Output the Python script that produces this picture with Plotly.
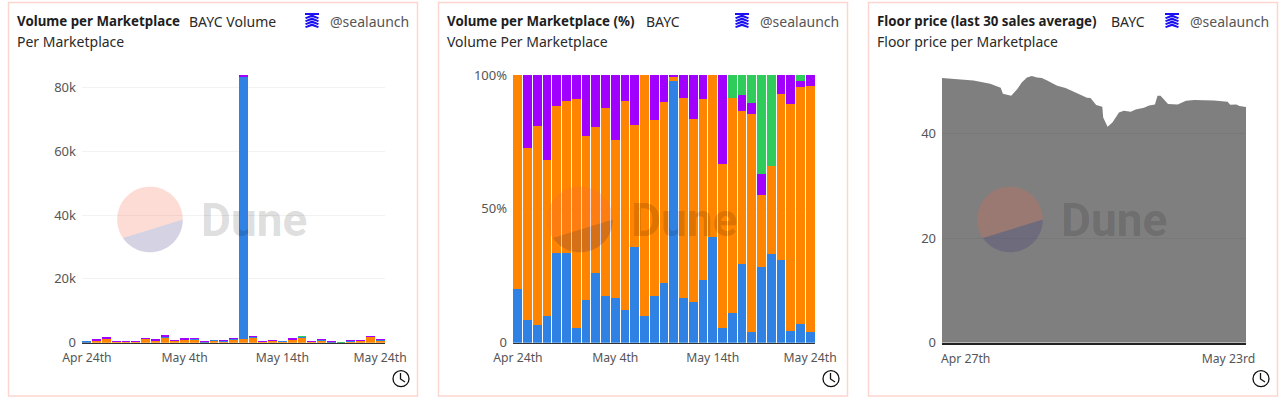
import math
import pandas as pd
import plotly.graph_objects as go

days = pd.date_range('2022-04-24', '2022-05-24').strftime('%Y-%m-%d').tolist()

# volume per marketplace, in ETH
vol_orange = [200, 600, 1200, 250, 250, 350, 1250, 600, 1350, 550, 850, 1150, 180, 700, 450, 1000,
              1300, 1600, 350, 550, 300, 900, 1700, 280, 800, 150, 35, 500, 680, 1850, 830]
vol_blue = [50, 100, 100, 50, 30, 100, 80, 150, 650, 150, 250, 150, 150, 80, 120, 300,
            82200, 350, 80, 150, 200, 100, 200, 150, 50, 150, 30, 250, 30, 150, 40]
vol_green = [0, 0, 0, 0, 0, 0, 0, 0, 0, 0, 0, 0, 0, 0, 0, 0,
             0, 0, 0, 0, 0, 0, 200, 30, 120, 180, 35, 0, 0, 50, 0]
vol_purple = [0, 450, 400, 100, 70, 50, 120, 250, 500, 100, 350, 150, 70, 0, 130, 150,
              500, 150, 70, 100, 0, 500, 0, 30, 30, 40, 0, 50, 90, 50, 30]

# share per marketplace, in percent
pct_blue = [20, 8.5, 6.7, 10, 33.6, 33.4, 5.6, 15.8, 26.1, 17.5, 16.6, 12.2, 35.7, 10.1, 17.5, 22.2,
            97.8, 16.8, 15.2, 23.3, 39.5, 5.4, 11.2, 29.4, 3.9, 28.2, 33.3, 30.9, 4.3, 7, 3.9]
pct_orange = [80, 64.2, 74.2, 58.3, 54.9, 57, 85.5, 61.5, 54.6, 70.2, 59.1, 78.2, 45.8, 89.9, 65.6, 67.9,
              1.6, 74.6, 68.3, 67.9, 60.5, 61.4, 80.2, 57, 81.7, 27.1, 32.8, 62.1, 84.9, 88.5, 92.1]
pct_purple = [0, 27.3, 19.1, 31.7, 11.5, 9.6, 8.9, 22.7, 19.3, 12.3, 24.3, 9.6, 18.5, 0, 16.9, 9.9,
              0.6, 8.6, 16.5, 8.8, 0, 33.2, 0, 6.2, 4, 7.8, 0, 7, 10.8, 2.4, 4]
pct_green = [0, 0, 0, 0, 0, 0, 0, 0, 0, 0, 0, 0, 0, 0, 0, 0,
             0, 0, 0, 0, 0, 0, 8.6, 7.4, 10.4, 36.9, 33.9, 0, 0, 2.1, 0]

floor_dates = ['2022-04-25 00:00', '2022-04-26 10:00', '2022-04-28 00:00', '2022-04-29 14:00', '2022-04-30 14:00',
               '2022-04-30 19:00', '2022-05-01 14:00', '2022-05-02 04:00', '2022-05-02 14:00', '2022-05-03 02:00',
               '2022-05-03 13:00', '2022-05-04 01:00', '2022-05-04 12:00', '2022-05-05 00:00', '2022-05-05 23:00',
               '2022-05-06 18:00', '2022-05-07 20:00', '2022-05-08 19:00', '2022-05-09 03:00', '2022-05-09 16:00',
               '2022-05-10 06:00', '2022-05-10 08:00', '2022-05-10 18:00', '2022-05-11 05:00', '2022-05-11 20:00',
               '2022-05-12 07:00', '2022-05-12 23:00', '2022-05-13 10:00', '2022-05-14 05:00', '2022-05-14 17:00',
               '2022-05-15 06:00', '2022-05-15 12:00', '2022-05-15 19:00', '2022-05-16 12:00', '2022-05-17 10:00',
               '2022-05-18 05:00', '2022-05-19 00:00', '2022-05-20 21:00', '2022-05-22 04:00', '2022-05-22 10:00',
               '2022-05-23 00:00', '2022-05-23 07:00', '2022-05-23 22:00']
floor_price = [50.65, 50.4, 50.2, 49.57, 48.8, 47.66, 47.27, 48.55, 49.83, 50.78, 51.04, 50.78, 50.65, 50.2, 49.19,
               48.74, 47.78, 46.89, 46.83, 45.49, 45.17, 43.13, 41.34, 42.17, 44.08, 44.4, 44.21, 44.66, 44.98, 45.42,
               45.61, 47.27, 47.27, 45.68, 45.61, 46.32, 46.44, 46.38, 46.12, 45.55, 45.61, 45.3, 45.1]

bar_ticks = ['2022-04-24', '2022-05-04', '2022-05-14', '2022-05-24']
bar_labels = ['Apr 24th', 'May 4th', 'May 14th', 'May 24th']
floor_ticks = ['2022-04-27 06:00', '2022-05-22 06:00']
floor_labels = ['Apr 27th', 'May 23rd']

titles = ['Volume per Marketplace', 'Volume per Marketplace (%)', 'Floor price (last 30 sales average)']
notes = ['BAYC Volume', 'BAYC', 'BAYC']
note_x = [187, 644, 1109]
subtitles = ['Per Marketplace', 'Volume Per Marketplace', 'Floor price per Marketplace']
offsets = [0, 430, 860]

BLUE = '#2f82e4'
ORANGE = '#ff8400'
PURPLE = '#a100ff'
GREEN = '#2fcc5c'
FONT = 'Noto Sans'
W, H = 1280, 402


def px(x):
    return x / W


def py(y):
    return 1 - y / H


def poly(points):
    return 'M' + ' L'.join(f'{px(x):.5f},{py(y):.5f}' for x, y in points) + ' Z'


def arc(cx, cy, r, a0, a1):
    n = 60
    pts = []
    for i in range(n + 1):
        a = math.radians(a0 + (a1 - a0) * i / n)
        pts.append((cx + r * math.cos(a), cy - r * math.sin(a)))
    return pts


fig = go.Figure()

for vals, col in [(vol_orange, ORANGE), (vol_blue, BLUE), (vol_green, GREEN), (vol_purple, PURPLE)]:
    fig.add_trace(go.Bar(x=days, y=vals, marker_color=col, marker_line_width=0, xaxis='x', yaxis='y'))
for vals, col in [(pct_blue, BLUE), (pct_orange, ORANGE), (pct_purple, PURPLE), (pct_green, GREEN)]:
    fig.add_trace(go.Bar(x=days, y=vals, marker_color=col, marker_line_width=0, xaxis='x2', yaxis='y2'))
fig.add_trace(go.Scatter(x=floor_dates, y=floor_price, mode='lines', line_width=0, fill='tozeroy',
                         fillcolor='rgba(0,0,0,0.5)', xaxis='x3', yaxis='y3'))

shapes = []
annotations = []


def label(x, y, text, size, color, family=FONT):
    annotations.append(dict(xref='paper', yref='paper', xanchor='left', yanchor='middle', showarrow=False,
                            x=px(x), y=py(y), text=text, font=dict(size=size, color=color, family=family)))


for i, off in enumerate(offsets):
    # card border
    shapes.append(dict(type='rect', xref='paper', yref='paper', x0=px(8.5 + off), x1=px(417.5 + off),
                       y0=py(396), y1=py(2.5), line=dict(color='#fdd5d0', width=1.5), layer='below'))
    label(15 + off, 21, f'<b>{titles[i]}</b>', 13.3, '#1e1e1e')
    label(note_x[i], 21, notes[i], 14, '#2a2a2a')
    label(15 + off, 42, subtitles[i], 14, '#2a2a2a')
    label(328 + off, 21, '@sealaunch', 14, '#555555')
    label(199 + off, 220, '<b>Dune</b>', 46, 'rgba(0,0,0,0.15)', 'Roboto')

    # logo
    lx = 312 + off
    shapes.append(dict(type='path', xref='paper', yref='paper', line_width=0, fillcolor='#1c10f0',
                       path=poly([(lx - 7, 13), (lx + 7, 13), (lx + 7, 15), (lx - 7, 15)])))
    for top in (14.5, 17.5, 20.5, 23.5):
        shapes.append(dict(type='path', xref='paper', yref='paper', line_width=0, fillcolor='#1c10f0',
                           path=poly([(lx, top), (lx + 7, top + 3), (lx + 6, top + 4.6), (lx, top + 2.5),
                                      (lx - 6, top + 4.6), (lx - 7, top + 3)])))

    # clock
    cx = 401 + off
    shapes.append(dict(type='circle', xref='paper', yref='paper', x0=px(cx - 8), x1=px(cx + 8),
                       y0=py(378.7 + 8), y1=py(378.7 - 8), line=dict(color='#111111', width=1.3)))
    shapes.append(dict(type='path', xref='paper', yref='paper', line=dict(color='#111111', width=1.3),
                       path=f'M{px(cx - 0.5)},{py(373)} L{px(cx - 0.5)},{py(379)} L{px(cx + 4)},{py(382)}'))

    # watermark pie
    shapes.append(dict(type='path', xref='paper', yref='paper', line_width=0, layer='above',
                       fillcolor='rgba(247,104,74,0.23)', path=poly(arc(150 + off, 219.5, 32.8, 0, 214.3))))
    shapes.append(dict(type='path', xref='paper', yref='paper', line_width=0, layer='above',
                       fillcolor='rgba(45,35,115,0.2)', path=poly(arc(150 + off, 219.5, 32.8, 214.3, 360))))

y_tickfont = dict(family=FONT, size=13, color='#555555')
x_tickfont = dict(family=FONT, size=12.2, color='#555555')
y_dom = [py(342.7), py(70)]
x_common = dict(type='date', showgrid=False, showline=True, linecolor='#333333', linewidth=1,
                ticks='', tickfont=x_tickfont, zeroline=False, automargin=False, ticklabelstandoff=4)
y_common = dict(showline=False, zeroline=False, gridcolor='#f2f2f2', gridwidth=1, tickfont=y_tickfont,
                ticklabelstandoff=5, ticks='', automargin=False)

fig.update_layout(
    width=W, height=H, margin=dict(l=0, r=0, t=0, b=0), paper_bgcolor='white', plot_bgcolor='rgba(0,0,0,0)',
    barmode='stack', bargap=0.1, showlegend=False, shapes=shapes, annotations=annotations,
    xaxis=dict(domain=[px(82), px(385)], range=['2022-04-23 12:00', '2022-05-24 12:00'], anchor='y',
               tickvals=bar_ticks, ticktext=bar_labels, **x_common),
    yaxis=dict(domain=y_dom, range=[0, 85500], anchor='x', tickvals=[0, 20000, 40000, 60000, 80000],
               ticktext=['0', '20k', '40k', '60k', '80k'], **y_common),
    xaxis2=dict(domain=[px(513), px(815)], range=['2022-04-23 12:00', '2022-05-24 12:00'], anchor='y2',
                tickvals=bar_ticks, ticktext=bar_labels, **x_common),
    yaxis2=dict(domain=[py(342.7), py(75)], range=[0, 100], anchor='x2', tickvals=[0, 50, 100],
                ticktext=['0', '50%', '100%'], **y_common),
    xaxis3=dict(domain=[px(942), px(1246)], range=['2022-04-25 00:00', '2022-05-23 22:00'], anchor='y3',
                tickvals=floor_ticks, ticktext=floor_labels, **x_common),
    yaxis3=dict(domain=y_dom, range=[0, 52.2], anchor='x3', tickvals=[0, 20, 40],
                ticktext=['0', '20', '40'], **y_common),
)
fig.update_xaxes(linewidth=1.5, linecolor='#222222', selector=dict(anchor='y3'))

fig.write_html('out.html', post_script="document.body.style.margin='0';",
               config=dict(displayModeBar=False))
